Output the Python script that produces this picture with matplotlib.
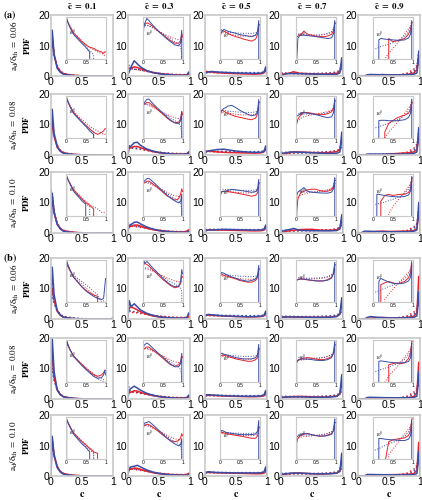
import numpy as np
import matplotlib.pyplot as plt
from matplotlib.ticker import NullLocator

plt.rcParams['mathtext.fontset'] = 'stix'
plt.rcParams['font.family'] = 'Liberation Sans'

# ----------------------- data ----------------------- #
C = [0, 0.02, 0.05, 0.1, 0.15, 0.2, 0.3, 0.4, 0.5, 0.6, 0.7, 0.8, 0.9, 0.95, 0.98, 1.0]
CTILDE = ['0.1', '0.3', '0.5', '0.7', '0.9']
AD = ['0.06', '0.08', '0.10', '0.06', '0.08', '0.10']
INSET_YLIM = [(0.005, 20), (0.05, 6), (0.15, 4), (0.03, 10), (0.02, 15)]

# rows: (a) 0.06, 0.08, 0.10, (b) 0.06, 0.08, 0.10
RED_C1 = [
    [15, 13, 7, 3, 1.5, 0.8, 0.35, 0.16, 0.08, 0.05, 0.04, 0.025, 0.02, 0.015, 0.02, 0.02],
    [10, 10, 6, 2.6, 1.3, 0.7, 0.3, 0.13, 0.06, 0.03, 0.015, 0.01, 0.015, 0.02, 0.03, 0.03],
    [14, 12, 6.5, 3, 1.5, 0.8, 0.35, 0.15, 0.07, 0.04, 0.02, 0, 0, 0, 0, 0],
    [10, 10, 6, 2.5, 1.2, 0.6, 0.25, 0.1, 0.05, 0.03, 0.02, 0.015, 0, 0, 0, 0],
    [20, 14, 7, 3, 1.5, 0.8, 0.35, 0.15, 0.07, 0.035, 0.02, 0.015, 0.02, 0.03, 0.05, 0.05],
    [13, 12, 6.5, 3, 1.5, 0.8, 0.35, 0.16, 0.08, 0.04, 0.02, 0.015, 0, 0, 0, 0],
]
BLUE_C1 = [
    [0, 15, 7, 2.5, 1.2, 0.6, 0.25, 0.11, 0.05, 0.02, 0, 0, 0, 0, 0, 0],
    [0, 15, 7, 2.6, 1.2, 0.6, 0.25, 0.11, 0.05, 0.02, 0.01, 0, 0, 0, 0, 0],
    [0, 13, 7, 2.8, 1.3, 0.6, 0.25, 0.1, 0.05, 0, 0, 0, 0, 0, 0, 0],
    [0, 17, 8, 2.8, 1.3, 0.6, 0.25, 0.1, 0.045, 0.025, 0.015, 0.01, 0.008, 0.01, 0.1, 0.5],
    [0, 20, 9, 3, 1.4, 0.7, 0.3, 0.13, 0.06, 0.03, 0.015, 0.01, 0.012, 0.02, 0.05, 0.02],
    [0, 13, 7, 2.8, 1.3, 0.6, 0.25, 0.1, 0.05, 0.02, 0, 0, 0, 0, 0, 0],
]
RED_DOT_C1 = [
    [14, 12, 7.5, 3.4, 1.7, 0.9, 0.4, 0.18, 0.09, 0.05, 0.03, 0.02, 0.015, 0.012, 0.01, 0.01],
    [12, 11, 7, 3.2, 1.6, 0.9, 0.4, 0.2, 0.1, 0.05, 0.03, 0.02, 0.012, 0.01, 0.01, 0.01],
    [13, 12, 7, 3.3, 1.6, 0.9, 0.4, 0.18, 0.09, 0.05, 0.03, 0.02, 0.01, 0.01, 0.01, 0.01],
    [11, 10, 6.5, 3.0, 1.5, 0.8, 0.35, 0.17, 0.08, 0.04, 0.02, 0.01, 0.008, 0.006, 0.005, 0.005],
    [14, 12, 7, 3.2, 1.6, 0.85, 0.38, 0.18, 0.09, 0.045, 0.025, 0.015, 0.01, 0.008, 0.007, 0.007],
    [12, 11, 7, 3.2, 1.6, 0.85, 0.38, 0.18, 0.09, 0.045, 0.025, 0, 0, 0, 0, 0],
]
BLUE_DOT_C1 = [
    [12, 12, 6.5, 3, 1.4, 0.7, 0.3, 0.13, 0.06, 0.025, 0.012, 0, 0, 0, 0, 0],
    [11, 11, 6.5, 3, 1.4, 0.7, 0.3, 0.13, 0.06, 0.03, 0.015, 0, 0, 0, 0, 0],
    [12, 11, 6.5, 3, 1.4, 0.7, 0.3, 0.13, 0.06, 0.03, 0, 0, 0, 0, 0, 0],
    [8, 8, 5, 2.6, 1.5, 0.9, 0.5, 0.28, 0.15, 0.08, 0.04, 0.02, 0.005, 0, 0, 0],
    [10, 10, 6, 3, 1.5, 0.8, 0.35, 0.16, 0.08, 0.04, 0.02, 0.01, 0.006, 0.005, 0.005, 0.005],
    [11, 11, 6.5, 3, 1.4, 0.7, 0.3, 0.13, 0.06, 0.03, 0.015, 0, 0, 0, 0, 0],
]

RED_C2 = [
    [2.5, 2.5, 2.6, 3.0, 2.8, 2.4, 1.7, 1.15, 0.8, 0.55, 0.4, 0.3, 0.3, 0.4, 0.9, 0.6],
    [2.0, 2.2, 2.4, 2.8, 2.8, 2.4, 1.7, 1.1, 0.75, 0.5, 0.35, 0.28, 0.3, 0.45, 1.0, 0.7],
    [1.8, 2.0, 2.2, 2.6, 2.6, 2.3, 1.6, 1.1, 0.75, 0.5, 0.4, 0.3, 0.35, 0.6, 1.1, 0.8],
    [2.0, 3.5, 4.0, 3.5, 3.0, 2.4, 1.6, 1.0, 0.65, 0.45, 0.32, 0.25, 0.28, 0.4, 1.0, 0.8],
    [2.2, 2.0, 2.3, 2.7, 2.6, 2.2, 1.6, 1.1, 0.75, 0.5, 0.35, 0.3, 0.35, 0.5, 1.0, 0.8],
    [1.8, 2.0, 2.3, 2.6, 2.5, 2.2, 1.6, 1.1, 0.75, 0.55, 0.4, 0.35, 0.4, 0.55, 0.9, 0.7],
]
BLUE_C2 = [
    [0.3, 1.5, 3.0, 5.0, 4.0, 3.0, 1.8, 1.1, 0.75, 0.5, 0.35, 0.25, 0.22, 0.3, 1.3, 0],
    [0, 2.5, 3.0, 4.0, 4.2, 3.2, 2.0, 1.3, 0.85, 0.55, 0.38, 0.28, 0.25, 0.35, 1.0, 0],
    [0.5, 2.5, 2.8, 3.5, 3.6, 3.0, 2.0, 1.3, 0.85, 0.55, 0.38, 0.28, 0.22, 0.25, 0.6, 0],
    [0.5, 6.0, 4.0, 5.0, 4.0, 3.0, 1.9, 1.2, 0.75, 0.5, 0.35, 0.28, 0.3, 0.5, 2.0, 1.2],
    [0.5, 3.0, 3.5, 4.2, 3.6, 2.9, 1.9, 1.25, 0.85, 0.55, 0.38, 0.28, 0.28, 0.4, 1.3, 0],
    [0.3, 2.5, 3.0, 3.2, 3.5, 3.0, 2.0, 1.3, 0.85, 0.55, 0.38, 0.28, 0.22, 0.25, 0.5, 0],
]
RED_DOT_C2 = [
    [3.0, 2.6, 2.4, 2.3, 2.1, 1.9, 1.5, 1.15, 0.9, 0.72, 0.6, 0.5, 0.45, 0.45, 0.45, 0.45],
    [2.8, 2.5, 2.3, 2.2, 2.0, 1.85, 1.5, 1.15, 0.9, 0.72, 0.6, 0.5, 0.45, 0.45, 0.45, 0.45],
    [2.6, 2.4, 2.3, 2.2, 2.0, 1.85, 1.5, 1.2, 0.95, 0.75, 0.6, 0.5, 0.45, 0.45, 0.5, 0.5],
    [2.5, 2.3, 2.2, 2.1, 2.0, 1.85, 1.5, 1.2, 0.95, 0.78, 0.65, 0.55, 0.5, 0.5, 0.5, 0.5],
    [2.6, 2.4, 2.3, 2.2, 2.0, 1.85, 1.5, 1.2, 0.95, 0.75, 0.6, 0.5, 0.45, 0.45, 0.45, 0.45],
    [2.6, 2.4, 2.3, 2.2, 2.0, 1.85, 1.5, 1.2, 0.95, 0.75, 0.6, 0.5, 0.45, 0.45, 0.45, 0.45],
]
BLUE_DOT_C2 = [
    [5.0, 3.0, 2.2, 2.2, 2.2, 2.0, 1.6, 1.2, 0.9, 0.65, 0.48, 0.36, 0.28, 0.2, 0.08, 0],
    [4.5, 3.0, 2.3, 2.3, 2.2, 2.0, 1.6, 1.2, 0.9, 0.65, 0.48, 0.36, 0.28, 0.2, 0.08, 0],
    [3.5, 2.6, 2.3, 2.3, 2.2, 2.0, 1.6, 1.2, 0.9, 0.65, 0.48, 0.36, 0.28, 0.2, 0.1, 0],
    [4.0, 2.8, 2.4, 2.4, 2.3, 2.1, 1.6, 1.2, 0.9, 0.65, 0.48, 0.38, 0.3, 0.25, 0.15, 0],
    [5.5, 3.0, 2.3, 2.3, 2.2, 2.0, 1.6, 1.2, 0.9, 0.65, 0.48, 0.36, 0.28, 0.2, 0.1, 0],
    [3.5, 2.6, 2.3, 2.3, 2.2, 2.0, 1.6, 1.2, 0.9, 0.65, 0.48, 0.36, 0.28, 0.2, 0.1, 0],
]

RED_C3 = [
    [1.2, 1.5, 1.4, 1.3, 1.2, 1.1, 0.95, 0.85, 0.78, 0.7, 0.65, 0.6, 0.7, 1.0, 2.0, 2.2],
    [0.8, 1.2, 1.3, 1.2, 1.1, 1.0, 0.9, 0.8, 0.75, 0.7, 0.65, 0.62, 0.7, 1.0, 2.2, 2.5],
    [0.7, 0.9, 1.0, 1.05, 1.0, 1.0, 0.95, 0.9, 0.85, 0.8, 0.75, 0.7, 0.75, 0.9, 1.8, 2.0],
    [1.0, 1.2, 1.25, 1.2, 1.15, 1.1, 1.0, 0.9, 0.8, 0.75, 0.7, 0.7, 0.8, 1.0, 1.8, 2.0],
    [0.8, 1.1, 1.2, 1.2, 1.15, 1.1, 1.0, 0.9, 0.85, 0.8, 0.75, 0.75, 0.85, 1.0, 1.8, 2.0],
    [0.9, 1.1, 1.2, 1.15, 1.1, 1.05, 1.0, 0.95, 0.9, 0.85, 0.8, 0.75, 0.75, 0.9, 1.6, 1.8],
]
BLUE_C3 = [
    [1.4, 1.0, 1.3, 1.5, 1.4, 1.3, 1.2, 1.1, 1.0, 0.95, 0.9, 0.85, 0.95, 1.3, 3.0, 0],
    [0.5, 1.0, 1.3, 1.5, 1.6, 1.8, 1.9, 1.6, 1.3, 1.1, 0.95, 0.85, 0.9, 1.2, 3.0, 0],
    [0.4, 0.8, 1.0, 1.0, 1.05, 1.1, 1.2, 1.15, 1.1, 1.05, 1.0, 0.95, 1.0, 1.2, 2.6, 0],
    [0.8, 1.3, 1.5, 1.4, 1.3, 1.2, 1.05, 0.95, 0.85, 0.8, 0.75, 0.8, 0.9, 1.2, 2.6, 0],
    [0.6, 1.4, 1.4, 1.3, 1.25, 1.2, 1.1, 1.0, 0.95, 0.9, 0.9, 0.9, 1.0, 1.3, 2.8, 0],
    [0.5, 1.2, 1.4, 1.3, 1.2, 1.15, 1.1, 1.05, 1.0, 1.0, 1.0, 1.0, 1.05, 1.3, 3.0, 0],
]
RED_DOT_C3 = [
    [1.2, 1.2, 1.2, 1.15, 1.1, 1.08, 1.0, 0.95, 0.9, 0.88, 0.88, 0.9, 0.95, 1.05, 1.4, 1.5],
    [1.1, 1.1, 1.1, 1.1, 1.08, 1.05, 1.0, 0.95, 0.92, 0.9, 0.9, 0.92, 0.98, 1.1, 1.5, 1.6],
    [1.0, 1.0, 1.0, 1.0, 1.0, 1.0, 0.98, 0.95, 0.92, 0.9, 0.9, 0.92, 0.98, 1.1, 1.5, 1.6],
    [1.2, 1.2, 1.15, 1.1, 1.08, 1.05, 1.0, 0.95, 0.92, 0.9, 0.88, 0.88, 0.92, 1.05, 1.4, 1.5],
    [1.1, 1.1, 1.1, 1.08, 1.05, 1.03, 1.0, 0.96, 0.93, 0.9, 0.9, 0.9, 0.95, 1.05, 1.4, 1.5],
    [1.1, 1.1, 1.1, 1.08, 1.05, 1.03, 1.0, 0.97, 0.95, 0.93, 0.92, 0.92, 0.95, 1.05, 1.4, 1.5],
]
BLUE_DOT_C3 = [
    [1.3, 1.3, 1.3, 1.28, 1.25, 1.22, 1.18, 1.15, 1.12, 1.1, 1.1, 1.1, 1.15, 1.25, 1.7, 1.8],
    [1.3, 1.3, 1.3, 1.28, 1.25, 1.22, 1.18, 1.15, 1.12, 1.1, 1.1, 1.1, 1.15, 1.25, 1.7, 1.8],
    [1.2, 1.2, 1.2, 1.2, 1.18, 1.16, 1.14, 1.12, 1.1, 1.1, 1.1, 1.1, 1.15, 1.25, 1.7, 1.8],
    [1.4, 1.35, 1.3, 1.28, 1.25, 1.22, 1.18, 1.15, 1.12, 1.1, 1.08, 1.08, 1.12, 1.25, 1.7, 1.8],
    [1.3, 1.3, 1.3, 1.28, 1.25, 1.22, 1.18, 1.15, 1.12, 1.1, 1.1, 1.1, 1.15, 1.25, 1.7, 1.8],
    [1.2, 1.2, 1.2, 1.2, 1.18, 1.16, 1.14, 1.12, 1.1, 1.1, 1.1, 1.1, 1.15, 1.25, 1.7, 1.8],
]

RED_C4 = [
    [0.6, 0.6, 0.7, 0.8, 1.0, 1.4, 0.9, 0.8, 0.7, 0.65, 0.65, 0.7, 0.9, 1.5, 4.0, 4.0],
    [0.1, 0.2, 0.4, 0.6, 0.8, 1.0, 1.0, 0.9, 0.8, 0.75, 0.75, 0.85, 1.1, 1.8, 5.0, 5.0],
    [0, 0.05, 0.3, 0.6, 0.8, 0.9, 1.1, 1.2, 1.2, 1.0, 0.9, 0.9, 1.1, 1.6, 4.0, 4.0],
    [0.6, 0.6, 0.65, 0.7, 0.7, 0.68, 0.62, 0.58, 0.55, 0.52, 0.55, 0.65, 0.9, 1.6, 5.0, 5.0],
    [0, 0.4, 0.6, 0.7, 0.75, 0.8, 0.85, 0.8, 0.7, 0.65, 0.65, 0.75, 1.0, 1.6, 5.0, 5.0],
    [0.1, 0.3, 0.5, 0.7, 0.8, 0.9, 1.0, 0.85, 0.75, 0.7, 0.7, 0.8, 1.0, 1.5, 4.5, 4.5],
]
BLUE_C4 = [
    [0, 0.02, 0.5, 0.8, 0.8, 0.8, 0.75, 0.7, 0.65, 0.6, 0.55, 0.5, 0.55, 1.0, 6.0, 0],
    [0.6, 0.6, 0.65, 0.8, 1.0, 1.0, 0.9, 0.85, 0.75, 0.65, 0.55, 0.5, 0.55, 1.0, 7.5, 0],
    [0, 0.5, 0.8, 1.0, 1.2, 1.5, 0.9, 0.8, 0.75, 0.72, 0.7, 0.7, 0.8, 1.3, 6.0, 0],
    [0.5, 0.6, 0.65, 0.7, 0.7, 0.7, 0.65, 0.6, 0.55, 0.55, 0.55, 0.6, 0.8, 1.6, 7.0, 0],
    [0.5, 0.55, 0.6, 0.65, 0.7, 0.7, 0.7, 0.65, 0.6, 0.58, 0.58, 0.65, 0.85, 1.7, 8.0, 0],
    [0, 0.6, 0.7, 0.8, 0.9, 1.0, 0.95, 0.85, 0.75, 0.7, 0.7, 0.75, 0.9, 1.6, 7.5, 0],
]
RED_DOT_C4 = [
    [0.9, 0.9, 0.88, 0.85, 0.83, 0.8, 0.78, 0.78, 0.78, 0.8, 0.85, 0.95, 1.2, 1.6, 2.5, 2.8],
    [0.2, 0.25, 0.3, 0.4, 0.5, 0.55, 0.65, 0.72, 0.8, 0.9, 1.0, 1.15, 1.4, 1.8, 2.6, 2.8],
    [0.3, 0.35, 0.4, 0.5, 0.55, 0.6, 0.7, 0.78, 0.85, 0.92, 1.0, 1.1, 1.35, 1.8, 2.6, 2.8],
    [0.8, 0.8, 0.78, 0.76, 0.75, 0.74, 0.72, 0.72, 0.73, 0.76, 0.82, 0.92, 1.15, 1.6, 2.6, 2.8],
    [0.5, 0.52, 0.55, 0.6, 0.62, 0.65, 0.68, 0.72, 0.75, 0.8, 0.88, 1.0, 1.25, 1.7, 2.6, 2.8],
    [0.5, 0.52, 0.55, 0.6, 0.62, 0.65, 0.68, 0.72, 0.75, 0.8, 0.88, 1.0, 1.25, 1.7, 2.6, 2.8],
]
BLUE_DOT_C4 = [
    [1.1, 1.0, 0.95, 0.9, 0.88, 0.85, 0.82, 0.8, 0.8, 0.82, 0.88, 1.0, 1.3, 2.0, 4.5, 6.0],
    [0.9, 0.9, 0.88, 0.86, 0.84, 0.82, 0.8, 0.8, 0.8, 0.82, 0.88, 1.0, 1.3, 2.0, 4.5, 6.0],
    [0.9, 0.9, 0.88, 0.86, 0.84, 0.82, 0.8, 0.8, 0.8, 0.82, 0.88, 1.0, 1.3, 2.0, 4.5, 6.0],
    [0.9, 0.9, 0.88, 0.86, 0.84, 0.82, 0.8, 0.8, 0.8, 0.82, 0.88, 1.0, 1.3, 2.0, 5.0, 7.0],
    [0.9, 0.9, 0.88, 0.86, 0.84, 0.82, 0.8, 0.8, 0.8, 0.82, 0.88, 1.0, 1.3, 2.0, 5.0, 7.0],
    [0.9, 0.9, 0.88, 0.86, 0.84, 0.82, 0.8, 0.8, 0.8, 0.82, 0.88, 1.0, 1.3, 2.0, 5.0, 7.0],
]

RED_C5 = [
    [0, 0, 0, 0, 0, 0, 0, 0.5, 0.3, 0.35, 0.4, 0.5, 1.0, 2.0, 6.0, 6.0],
    [0, 0, 0, 0, 0, 0, 0.05, 0.2, 0.3, 0.45, 0.6, 0.7, 1.0, 1.8, 5.5, 5.5],
    [0, 0, 0, 0, 0, 0.2, 0.5, 0.6, 0.5, 0.55, 0.6, 0.6, 0.8, 1.5, 7.0, 7.0],
    [0, 0, 0, 0, 0, 0.3, 0.4, 0.5, 0.4, 0.35, 0.4, 0.5, 0.9, 2.0, 14.0, 14.0],
    [0, 0, 0, 0, 0, 0, 0, 0.3, 0.35, 0.4, 0.35, 0.4, 0.8, 2.0, 12.0, 12.0],
    [0, 0, 0, 0, 0, 0, 0.01, 0.3, 0.4, 0.45, 0.5, 0.55, 0.8, 1.8, 11.0, 11.0],
]
BLUE_C5 = [
    [0, 0, 0, 0, 0.4, 0.5, 0.45, 0.42, 0.4, 0.38, 0.38, 0.4, 0.55, 1.0, 8.0, 0],
    [0, 0, 0, 0, 0.3, 0.32, 0.32, 0.3, 0.3, 0.3, 0.32, 0.35, 0.5, 1.0, 9.0, 0],
    [0, 0, 0, 0.6, 0.6, 0.55, 0.5, 0.45, 0.42, 0.4, 0.4, 0.42, 0.55, 1.0, 10.0, 0],
    [0, 0, 0, 0, 0.5, 0.8, 0.6, 0.45, 0.38, 0.35, 0.35, 0.4, 0.55, 1.0, 9.0, 0],
    [0, 0, 0, 0, 0.5, 0.55, 0.5, 0.45, 0.42, 0.4, 0.4, 0.42, 0.5, 0.9, 9.0, 0],
    [0, 0, 0, 0, 0.5, 0.5, 0.45, 0.42, 0.4, 0.38, 0.36, 0.36, 0.45, 0.8, 8.0, 0],
]
RED_DOT_C5 = [
    [0, 0, 0, 0, 0, 0, 0.02, 0.05, 0.1, 0.2, 0.45, 1.0, 2.2, 3.5, 4.5, 5.0],
    [0, 0, 0, 0, 0, 0, 0.02, 0.05, 0.1, 0.2, 0.45, 1.0, 2.2, 3.5, 4.5, 5.0],
    [0, 0, 0, 0, 0, 0, 0, 0.03, 0.08, 0.18, 0.4, 0.9, 2.0, 3.2, 4.5, 5.0],
    [0, 0, 0, 0, 0, 0, 0.03, 0.07, 0.14, 0.28, 0.55, 1.1, 2.2, 3.5, 5.0, 5.5],
    [0, 0, 0, 0, 0, 0, 0.02, 0.05, 0.1, 0.2, 0.45, 1.0, 2.2, 3.5, 4.5, 5.0],
    [0, 0, 0, 0, 0, 0, 0, 0.04, 0.09, 0.2, 0.45, 1.0, 2.2, 3.5, 4.5, 5.0],
]
BLUE_DOT_C5 = [
    [0.1, 0.1, 0.1, 0.1, 0.12, 0.14, 0.17, 0.2, 0.25, 0.32, 0.45, 0.7, 1.4, 3.0, 8.0, 9.0],
    [0.1, 0.1, 0.1, 0.1, 0.11, 0.13, 0.16, 0.2, 0.25, 0.32, 0.45, 0.7, 1.4, 3.0, 8.0, 9.0],
    [0.12, 0.12, 0.12, 0.13, 0.14, 0.15, 0.18, 0.22, 0.27, 0.34, 0.46, 0.7, 1.4, 3.0, 8.0, 9.0],
    [0.08, 0.08, 0.09, 0.1, 0.11, 0.13, 0.17, 0.22, 0.28, 0.36, 0.5, 0.75, 1.4, 3.0, 8.0, 9.0],
    [0.1, 0.1, 0.1, 0.11, 0.12, 0.14, 0.17, 0.21, 0.27, 0.34, 0.46, 0.7, 1.4, 3.0, 8.0, 9.0],
    [0.06, 0.07, 0.08, 0.09, 0.1, 0.12, 0.16, 0.21, 0.27, 0.35, 0.48, 0.72, 1.4, 3.0, 8.0, 9.0],
]

RED = [RED_C1, RED_C2, RED_C3, RED_C4, RED_C5]
BLUE = [BLUE_C1, BLUE_C2, BLUE_C3, BLUE_C4, BLUE_C5]
RED_DOT = [RED_DOT_C1, RED_DOT_C2, RED_DOT_C3, RED_DOT_C4, RED_DOT_C5]
BLUE_DOT = [BLUE_DOT_C1, BLUE_DOT_C2, BLUE_DOT_C3, BLUE_DOT_C4, BLUE_DOT_C5]

# ----------------------- layout ----------------------- #
FW, FH = 422, 500
COL_X = [51, 128, 205, 281, 358]
ROW_Y = [15, 94, 172, 258, 338, 415]
AW, AH = 62, 61
RED_COL = '#e5232b'
BLUE_COL = '#3a4da6'
FRAME = '#c8c8c8'

fig = plt.figure(figsize=(FW / 100, FH / 100), dpi=100)


def draw_curves(ax, k, r, lw):
    ax.plot(C, RED_DOT[k][r], ls=':', color=RED_COL, lw=lw)
    ax.plot(C, BLUE_DOT[k][r], ls=':', color=BLUE_COL, lw=lw)
    ax.plot(C, RED[k][r], ls='-', color=RED_COL, lw=lw)
    ax.plot(C, BLUE[k][r], ls='-', color=BLUE_COL, lw=lw)


for r in range(6):
    for k in range(5):
        ax = fig.add_axes([COL_X[k] / FW, 1 - (ROW_Y[r] + AH) / FH, AW / FW, AH / FH])
        draw_curves(ax, k, r, 1.1)
        ax.set_xlim(0, 1)
        ax.set_ylim(0, 20)
        ax.set_xticks([0, 0.5, 1])
        ax.set_xticklabels(['0', '0.5', '1'])
        ax.set_yticks([0, 10, 20])
        ax.tick_params(labelsize=7.5, length=0, pad=1)
        for s in ax.spines.values():
            s.set_color(FRAME)
            s.set_linewidth(1.2)

        # log-scale inset
        ins = ax.inset_axes([0.24, 0.28, 0.64, 0.69])
        draw_curves(ins, k, r, 0.7)
        ins.set_yscale('log')
        ins.set_xlim(0, 1)
        ins.set_ylim(*INSET_YLIM[k])
        ins.set_xticks([0, 0.5, 1])
        ins.set_xticklabels(['0', '0.5', '1'])
        ins.set_yticks([1])
        ins.set_yticklabels(['$10^0$'])
        ins.yaxis.set_minor_locator(NullLocator())
        ins.tick_params(axis='x', labelsize=3.5, length=0, pad=1)
        ins.tick_params(axis='y', labelsize=3.5, length=0, pad=-8)
        for s in ins.spines.values():
            s.set_color(FRAME)
            s.set_linewidth(0.8)

        if r == 0:
            fig.text((COL_X[k] + AW / 2) / FW, 1 - 6 / FH,
                     r'$\mathbf{\tilde{c}\ =\ ' + CTILDE[k] + '}$',
                     ha='center', va='center', fontsize=6.5)
        if r == 5:
            fig.text((COL_X[k] + AW / 2) / FW, 1 - 494 / FH, r'$\mathbf{c}$',
                     ha='center', va='center', fontsize=7)

    fig.text(20 / FW, 1 - (ROW_Y[r] + AH / 2) / FH,
             r'$\mathrm{a_d/\delta_{th}\ =\ ' + AD[r] + '}$' + '\n' + r'$\mathbf{PDF}$',
             rotation=90, ha='center', va='center', fontsize=6.5, linespacing=1.1)

fig.text(3 / FW, 1 - 15 / FH, r'$\mathbf{(a)}$', ha='left', va='center', fontsize=7.5)
fig.text(3 / FW, 1 - 258 / FH, r'$\mathbf{(b)}$', ha='left', va='center', fontsize=7.5)

fig.savefig('out.png', dpi=100)
